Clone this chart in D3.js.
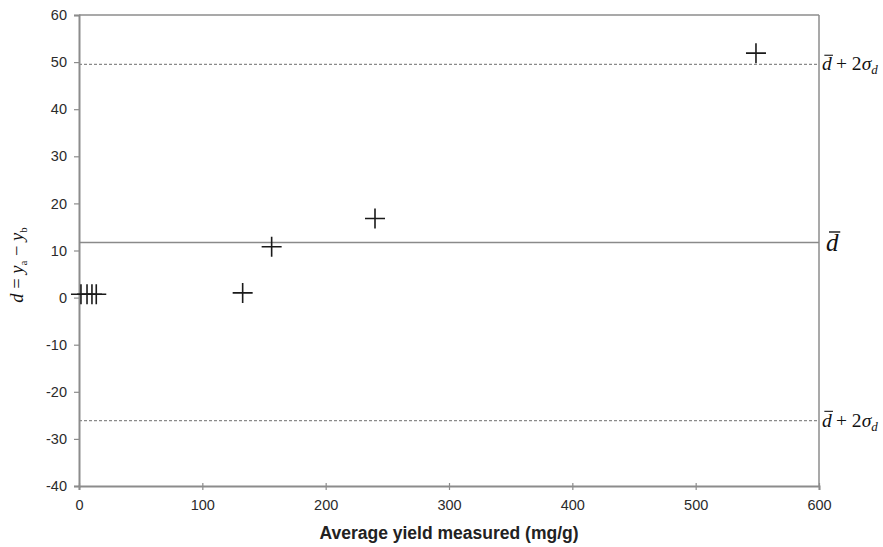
<!DOCTYPE html>
<meta charset="utf-8">
<title>Difference plot</title>
<style>
body { margin: 0; background: #fff; }
.math { font-family: "Liberation Serif", "DejaVu Serif", serif; fill: #111; }
</style>
<svg width="883" height="547"></svg>
<script src="https://cdn.jsdelivr.net/npm/d3@7"></script>
<script>
// measured points (average yield, difference)
var yieldAvg = [1.6, 6.5, 10.5, 14, 132.7, 156.2, 240, 548.9]
var diffs = [0.7, 0.7, 0.7, 0.7, 1.0, 10.8, 16.8, 51.9]

var meanDiff = 11.7
var upperLimit = 49.5
var lowerLimit = -26.1

var xTicks = [0, 100, 200, 300, 400, 500, 600]
var yTicks = [60, 50, 40, 30, 20, 10, 0, -10, -20, -30, -40]

var svg = d3.select("svg")
var plotL = 79, plotR = 819, plotT = 15, plotB = 486

var x = d3.scaleLinear().domain([0, 600]).range([plotL, plotR])
var y = d3.scaleLinear().domain([-40, 60]).range([plotB, plotT])

var axisColor = "#8c8c8c"

// frame top + right
svg.append("line").attr("x1", plotL).attr("x2", plotR).attr("y1", plotT).attr("y2", plotT)
	.attr("stroke", axisColor).attr("stroke-width", 1.5)
svg.append("line").attr("x1", plotR).attr("x2", plotR).attr("y1", plotT).attr("y2", plotB)
	.attr("stroke", axisColor).attr("stroke-width", 1.5)

var yAxis = svg.append("g")
	.attr("transform", "translate(" + plotL + ",0)")
	.call(d3.axisLeft(y).tickValues(yTicks).tickSize(5).tickPadding(7)
		.tickFormat(function(d) { return String(d) }))
var xAxis = svg.append("g")
	.attr("transform", "translate(0," + plotB + ")")
	.call(d3.axisBottom(x).tickValues(xTicks).tickSize(4).tickPadding(10))

svg.selectAll(".tick text")
	.attr("font-family", "Arial, 'Liberation Sans', sans-serif")
	.attr("font-size", 14.5)
	.attr("fill", "#2b2b2b")
yAxis.attr("font-size", 14.5)
xAxis.attr("font-size", 14.5)

yAxis.select(".domain").attr("stroke", axisColor).attr("stroke-width", 2)
xAxis.select(".domain").attr("stroke", axisColor).attr("stroke-width", 2)
svg.selectAll(".tick line").attr("stroke", axisColor).attr("stroke-width", 1.2)
xAxis.selectAll(".tick line").attr("y1", -3)

// reference lines
svg.append("line").attr("x1", plotL).attr("x2", plotR)
	.attr("y1", y(meanDiff)).attr("y2", y(meanDiff))
	.attr("stroke", "#8a8a8a").attr("stroke-width", 1.5)
;[upperLimit, lowerLimit].forEach(function(v) {
	svg.append("line").attr("x1", plotL).attr("x2", plotR)
		.attr("y1", y(v)).attr("y2", y(v))
		.attr("stroke", "#8a8a8a").attr("stroke-width", 1.2)
		.attr("stroke-dasharray", "3,2")
})

// crosses
var pts = yieldAvg.map(function(v, i) { return {x: v, y: diffs[i]} })
svg.append("g").selectAll("path").data(pts).enter().append("path")
	.attr("d", function(d) {
		var cx = x(d.x), cy = y(d.y), h = 10
		return "M" + (cx - h) + "," + cy + "H" + (cx + h) + "M" + cx + "," + (cy - h) + "V" + (cy + h)
	})
	.attr("stroke", "#1a1a1a").attr("stroke-width", 1.6).attr("fill", "none")

// d with an overbar
function dbar(g, xp, yp, size) {
	var t = g.append("text").attr("class", "math").attr("x", xp).attr("y", yp)
		.attr("font-size", size).attr("font-style", "italic").text("d")
	var b = t.node().getBBox()
	var oy = yp - size * 0.78
	g.append("line").attr("x1", b.x + size * 0.12).attr("x2", b.x + b.width + size * 0.05)
		.attr("y1", oy).attr("y2", oy)
		.attr("stroke", "#111").attr("stroke-width", size * 0.055)
	return b
}

function limitLabel(v) {
	var g = svg.append("g")
	var base = y(v) + 6
	var b = dbar(g, plotR + 3, base, 19.5)
	var t = g.append("text").attr("class", "math").attr("x", b.x + b.width + 4).attr("y", base)
		.attr("font-size", 19.5)
	t.append("tspan").text("+ 2")
	t.append("tspan").attr("font-style", "italic").text("σ")
	t.append("tspan").attr("font-style", "italic").attr("font-size", 13).attr("dy", 4).text("d")
}
limitLabel(upperLimit)
limitLabel(lowerLimit)
dbar(svg.append("g"), plotR + 7, y(meanDiff) + 9, 25)

// y title
var yt = svg.append("text").attr("class", "math")
	.attr("transform", "translate(23,265) rotate(-90)")
	.attr("text-anchor", "middle").attr("font-size", 18.5)
yt.append("tspan").attr("font-style", "italic").text("d")
yt.append("tspan").text(" = ")
yt.append("tspan").attr("font-style", "italic").text("y")
yt.append("tspan").attr("font-size", 11).attr("dy", 4).text("a")
yt.append("tspan").attr("dy", -4).text(" − ")
yt.append("tspan").attr("font-style", "italic").text("y")
yt.append("tspan").attr("font-size", 11).attr("dy", 4).text("b")

// x title
svg.append("text").attr("x", 449).attr("y", 539)
	.attr("text-anchor", "middle")
	.attr("font-family", "Arial, 'Liberation Sans', sans-serif")
	.attr("font-weight", "bold").attr("font-size", 17.5).attr("fill", "#222")
	.text("Average yield measured (mg/g)")
</script>
